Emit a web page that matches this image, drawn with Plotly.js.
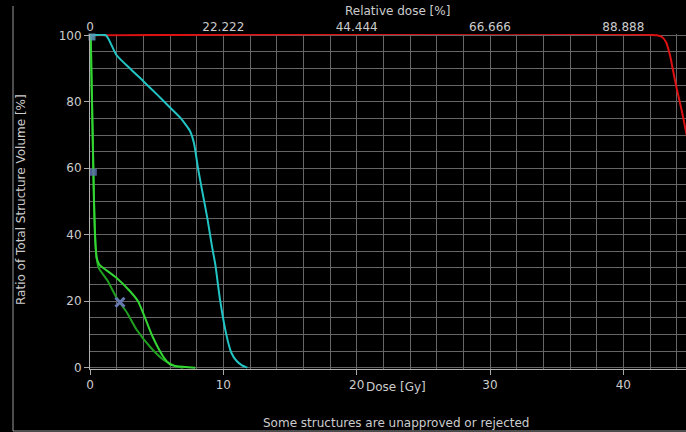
<!DOCTYPE html>
<html>
<head>
<meta charset="utf-8">
<script src="https://cdn.plot.ly/plotly-3.0.1.min.js"></script>
<style>html,body{margin:0;padding:0;background:#000;}#chart{width:686px;height:432px;}</style>
</head>
<body>
<div id="chart"></div>
<script>
// Red structure
const redDose = [0, 42.5, 42.9, 43.2, 43.5, 43.7, 44.0, 44.4, 44.7, 45.2, 46, 47, 48];
const redVol  = [100, 100, 99.5, 98, 94, 90, 84, 77, 71, 60, 40, 15, 0];
// Cyan structure
const cyanDose = [0, 1.2, 1.5, 2.0, 3, 4, 5, 6, 6.75, 7.2, 7.5, 7.8, 8.1, 8.4, 8.8, 9.15, 9.4, 9.75, 10.25, 10.6, 11.0, 11.4, 11.8];
const cyanVol  = [100, 100, 98, 94, 90, 86.2, 82.3, 78.3, 75.3, 73, 71.2, 67.5, 60, 53.5, 45, 36.5, 31, 20.5, 9.5, 4.5, 2, 0.7, 0];
// Bright green structure
const greenADose = [0, 0.05, 0.1, 0.2, 0.3, 0.4, 0.5, 0.7, 1.0, 2.0, 3.0, 3.6, 4.1, 4.7, 5.5, 6.0, 6.5, 7.9];
const greenAVol  = [100, 99, 90, 70, 50, 38, 33, 31, 30, 27, 23, 20, 15.3, 9.3, 3.3, 1, 0.4, 0];
// Dark green structure
const greenBDose = [0, 0.05, 0.1, 0.2, 0.3, 0.4, 0.5, 0.65, 1.3, 2.0, 2.8, 3.5, 4.5, 5.5, 6.5, 7.0];
const greenBVol  = [100, 99, 90, 70, 50, 38, 33, 30, 26.3, 21, 16.4, 11.4, 6.3, 2.4, 0.3, 0];
// Constraint markers
const markSqDose = [0.15, 0.25];
const markSqVol  = [99.5, 58.8];
const markXDose = [2.25];
const markXVol  = [19.7];
// Axis ticks
const doseTicks = [0, 10, 20, 30, 40];
const volTicks = [0, 20, 40, 60, 80, 100];
const relTicks = [0, 22.222, 44.444, 66.666, 88.888];
const relTickText = ['0', '22.222', '44.444', '66.666', '88.888'];
const maxDose = 44.7;
const prescribedDose = 45;

const txt = '#cccccc';
const grid = '#666666';
const font = {family: 'DejaVu Sans, Verdana, sans-serif', size: 12, color: txt};

const traces = [
  {x: redDose, y: redVol, mode: 'lines', line: {color: '#dd1111', width: 2, shape: 'spline', smoothing: 0.6}},
  {x: cyanDose, y: cyanVol, mode: 'lines', line: {color: '#22c4c4', width: 2, shape: 'spline', smoothing: 0.6}},
  {x: greenBDose, y: greenBVol, mode: 'lines', line: {color: '#20a020', width: 2, shape: 'spline', smoothing: 0.6}},
  {x: greenADose, y: greenAVol, mode: 'lines', line: {color: '#33d633', width: 2, shape: 'spline', smoothing: 0.6}},
  {x: markSqDose, y: markSqVol, mode: 'markers', marker: {symbol: 'square', size: 7, color: ['#5f9ab8', '#5a70a8'], opacity: 0.85}, cliponaxis: false},
  {x: markXDose, y: markXVol, mode: 'markers', marker: {symbol: 'x-thin', size: 9, line: {color: '#6878b0', width: 3}}, cliponaxis: false},
  {x: relTicks.map(v => v), y: relTicks.map(() => null), xaxis: 'x2', mode: 'markers', showlegend: false, hoverinfo: 'skip'}
];

const layout = {
  width: 686, height: 432,
  margin: {l: 90, r: 0, t: 34, b: 63},
  paper_bgcolor: '#000', plot_bgcolor: '#000',
  showlegend: false,
  font: font,
  xaxis: {
    range: [0, maxDose], tickvals: doseTicks, ticks: 'outside', ticklen: 5, tickcolor: '#aaa',
    showgrid: true, gridcolor: grid, gridwidth: 1,
    minor: {dtick: 2, showgrid: true, gridcolor: grid, gridwidth: 1},
    showline: true, linecolor: '#b0b0b0', linewidth: 1, zeroline: false,
    tickfont: font
  },
  xaxis2: {
    overlaying: 'x', side: 'top', range: [0, maxDose / prescribedDose * 100],
    tickvals: relTicks, ticktext: relTickText, ticks: '', showgrid: false, showline: false, zeroline: false,
    tickfont: font
  },
  yaxis: {
    range: [-0.4, 100.4], tickvals: volTicks, ticks: 'outside', ticklen: 5, tickcolor: '#aaa',
    showgrid: true, gridcolor: grid, gridwidth: 1,
    minor: {dtick: 5, showgrid: true, gridcolor: grid, gridwidth: 1},
    showline: true, linecolor: '#b0b0b0', linewidth: 1, zeroline: false,
    tickfont: font
  },
  annotations: [
    {text: 'Relative dose [%]', xref: 'paper', yref: 'paper', x: (397 - 90) / 596, y: 1 + (35 - 12) / 335, xanchor: 'center', yanchor: 'middle', showarrow: false, font: font},
    {text: 'Dose [Gy]', xref: 'paper', yref: 'paper', x: (396 - 90) / 596, y: -(386 - 368) / 335, xanchor: 'center', yanchor: 'middle', showarrow: false, font: font},
    {text: 'Ratio of Total Structure Volume [%]', xref: 'paper', yref: 'paper', x: (21 - 90) / 596, y: (368 - 199) / 335, xanchor: 'center', yanchor: 'middle', textangle: -90, showarrow: false, font: font},
    {text: 'Some structures are unapproved or rejected', xref: 'paper', yref: 'paper', x: (396 - 90) / 596, y: -(422 - 368) / 335, xanchor: 'center', yanchor: 'middle', showarrow: false, font: font}
  ],
  shapes: [
    {type: 'line', xref: 'paper', yref: 'paper', x0: (13 - 90) / 596, x1: (13 - 90) / 596, y0: -(430 - 368) / 335, y1: 1 + (34 - 6) / 335, line: {color: '#9a9a9a', width: 1}},
    {type: 'line', xref: 'paper', yref: 'paper', x0: (13 - 90) / 596, x1: 1, y0: -(430 - 368) / 335, y1: -(430 - 368) / 335, line: {color: '#9a9a9a', width: 1}}
  ]
};

Plotly.newPlot('chart', traces, layout, {displayModeBar: false, staticPlot: true});
</script>
</body>
</html>
